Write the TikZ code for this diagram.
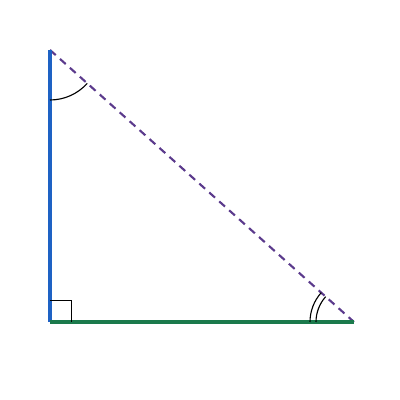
\documentclass[tikz,border=0pt]{standalone}
\usetikzlibrary{angles}
\definecolor{legA}{HTML}{1E62C4}
\definecolor{legB}{HTML}{1B7A4C}
\definecolor{hyp}{HTML}{5B3A8C}
\begin{document}
\begin{tikzpicture}[legAline/.style={draw=legA,line width=2.2pt},legBline/.style={draw=legB,line width=2.2pt},hypline/.style={draw=hyp,line width=1.5pt,dash pattern=on 5.5pt off 4pt},anglemark/.style={draw=black,line width=0.8pt}]
\def\ax{1.25};
\def\ay{1.95};
\def\ty{8.75};
\def\rx{8.85};

\useasboundingbox (0,0) rectangle (10,10);

\coordinate (A) at (\ax,\ay);
\coordinate (T) at (\ax,\ty);
\coordinate (R) at (\rx,\ay);

\draw[hypline] (T) -- (R);
\draw[legAline] (A) -- (T);
\draw[legBline] (A) -- (R);

\pic[anglemark,angle radius=0.53cm] {right angle = R--A--T};
\pic[anglemark,angle radius=1.25cm] {angle = A--T--R};
\pic[anglemark,angle radius=1.1cm] {angle = T--R--A};
\pic[anglemark,angle radius=0.95cm] {angle = T--R--A};
\end{tikzpicture}
\end{document}
